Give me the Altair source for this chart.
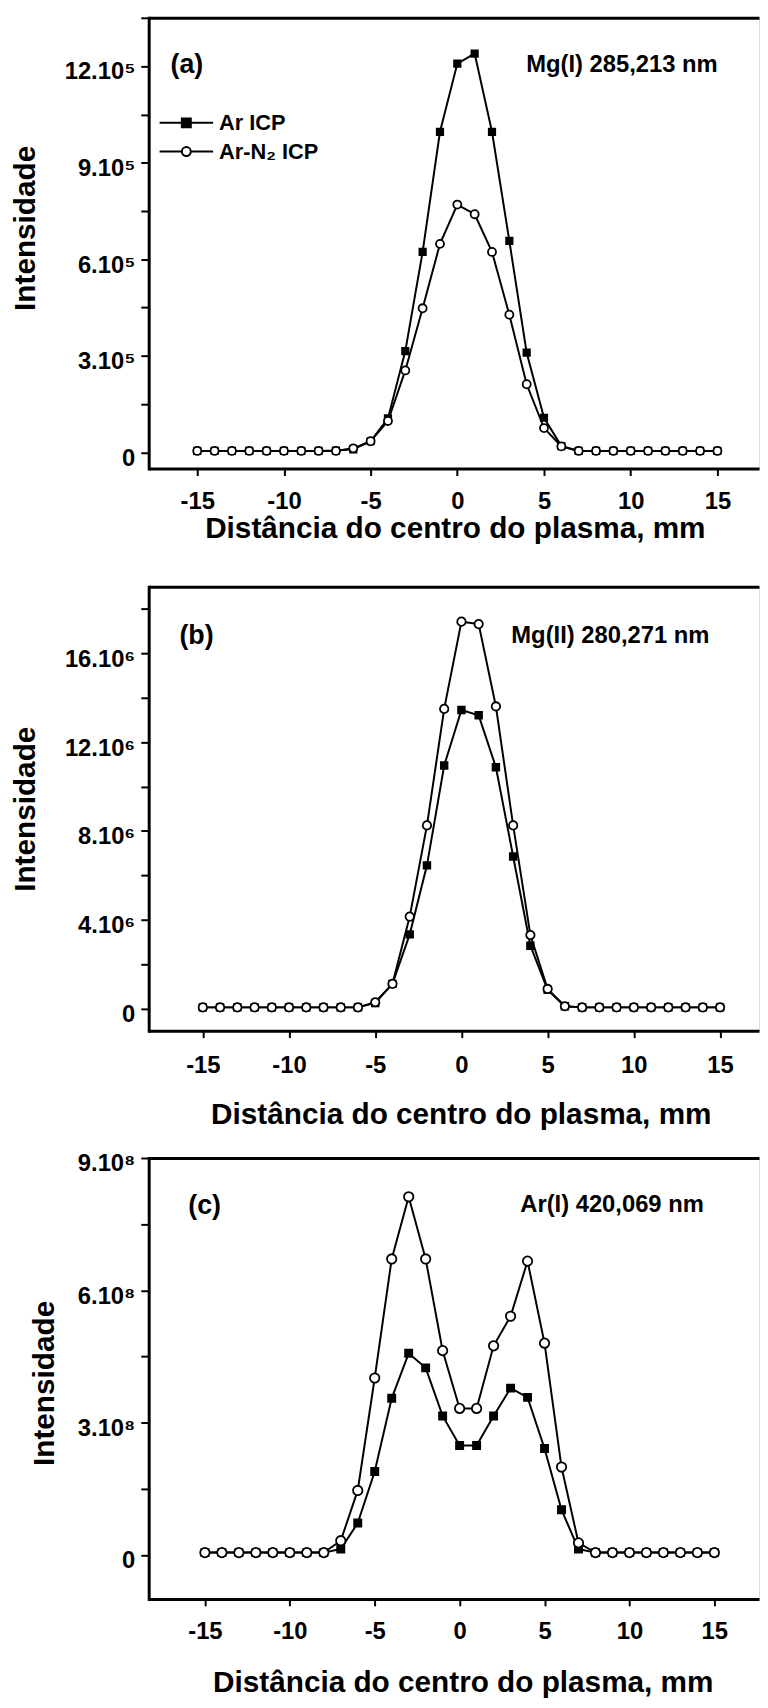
import altair as alt
import pandas as pd

FONT = "Liberation Sans"

# ---------------- data ----------------
distance_mm = [-15, -14, -13, -12, -11, -10, -9, -8, -7, -6, -5, -4, -3, -2, -1, 0,
               1, 2, 3, 4, 5, 6, 7, 8, 9, 10, 11, 12, 13, 14, 15]
series_names = ["Ar ICP", "Ar-N₂ ICP"]

# (a) Mg(I) 285,213 nm  -- intensities in units of 1e5
mg1_ar = [0.05, 0.05, 0.05, 0.05, 0.05, 0.05, 0.05, 0.05, 0.06, 0.10, 0.35, 1.06, 3.15, 6.23, 9.96, 12.08,
          12.39, 9.96, 6.57, 3.10, 1.08, 0.20, 0.05, 0.05, 0.05, 0.05, 0.05, 0.05, 0.05, 0.05, 0.05]
mg1_arn2 = [0.05, 0.05, 0.05, 0.05, 0.05, 0.05, 0.05, 0.05, 0.05, 0.13, 0.35, 0.98, 2.55, 4.48, 6.48, 7.70,
            7.40, 6.23, 4.28, 2.12, 0.76, 0.19, 0.05, 0.05, 0.05, 0.05, 0.05, 0.05, 0.05, 0.05, 0.05]

# (b) Mg(II) 280,271 nm -- intensities in units of 1e6
mg2_ar = [0.05, 0.05, 0.05, 0.05, 0.05, 0.05, 0.05, 0.05, 0.05, 0.05, 0.25, 1.11, 3.34, 6.45, 10.95, 13.45,
          13.21, 10.87, 6.85, 2.83, 0.84, 0.10, 0.05, 0.05, 0.05, 0.05, 0.05, 0.05, 0.05, 0.05, 0.05]
mg2_arn2 = [0.05, 0.05, 0.05, 0.05, 0.05, 0.05, 0.05, 0.05, 0.05, 0.05, 0.28, 1.11, 4.14, 8.25, 13.50, 17.43,
            17.32, 13.61, 8.25, 3.31, 0.88, 0.10, 0.05, 0.05, 0.05, 0.05, 0.05, 0.05, 0.05, 0.05, 0.05]

# (c) Ar(I) 420,069 nm -- intensities in units of 1e8
ar1_ar = [0.05, 0.05, 0.05, 0.05, 0.05, 0.05, 0.05, 0.05, 0.13, 0.72, 1.89, 3.55, 4.57, 4.24, 3.15, 2.48,
          2.48, 3.15, 3.78, 3.57, 2.41, 1.02, 0.13, 0.05, 0.05, 0.05, 0.05, 0.05, 0.05, 0.05, 0.05]
ar1_arn2 = [0.05, 0.05, 0.05, 0.05, 0.05, 0.05, 0.05, 0.05, 0.32, 1.46, 4.01, 6.71, 8.12, 6.71, 4.63, 3.32,
            3.32, 4.74, 5.41, 6.66, 4.80, 1.99, 0.27, 0.05, 0.05, 0.05, 0.05, 0.05, 0.05, 0.05, 0.05]

panel_tags = ["(a)", "(b)", "(c)"]
line_names = ["Mg(I) 285,213 nm", "Mg(II) 280,271 nm", "Ar(I) 420,069 nm"]

x_tick_values = [-15, -10, -5, 0, 5, 10, 15]
x_tick_labels = ["-15", "-10", "-5", "0", "5", "10", "15"]

a_tick_values = [0, 150000, 300000, 450000, 600000, 750000, 900000, 1050000, 1200000, 1350000]
a_tick_labels = ["0", "", "3.10⁵", "", "6.10⁵", "", "9.10⁵", "", "12.10⁵", ""]
b_tick_values = [0, 2000000, 4000000, 6000000, 8000000, 10000000, 12000000, 14000000, 16000000, 18000000]
b_tick_labels = ["0", "", "4.10⁶", "", "8.10⁶", "", "12.10⁶", "", "16.10⁶", ""]
c_tick_values = [0, 150000000, 300000000, 450000000, 600000000, 750000000, 900000000]
c_tick_labels = ["0", "", "3.10⁸", "", "6.10⁸", "", "9.10⁸"]

X_TITLE = "Distância do centro do plasma, mm"
Y_TITLE = "Intensidade"


def make_df(ar, arn2, unit):
    rows = []
    for name, vals in zip(series_names, [ar, arn2]):
        for d, v in zip(distance_mm, vals):
            rows.append({"distance": d, "intensity": v * unit, "series": name})
    return pd.DataFrame(rows)


def label_expr(values, labels):
    expr = "''"
    for v, l in reversed(list(zip(values, labels))):
        expr = f"datum.value == {v} ? '{l}' : ({expr})"
    return expr


# legend glyphs: a line through a marker (custom symbol paths, unit = sqrt(size)/2 px)
SQ_PATH = "M-5.4,0H5.4M-0.9,-0.9H0.9V0.9H-0.9Z"
CI_PATH = "M-5.4,0H-0.9M0.9,0H5.4M-0.9,0A0.9,0.9,0,1,1,0.9,0A0.9,0.9,0,1,1,-0.9,0Z"

legend_a = alt.Legend(
    title=None, orient="none", legendX=27, legendY=95, padding=0,
    symbolSize=100, symbolStrokeWidth=2, symbolOpacity=1,
    labelFont=FONT, labelFontSize=22, labelFontWeight="bold", labelColor="black",
    labelOffset=22, rowPadding=7,
)


def panel(df, tag, line_label, *, x_domain, y_domain, y_ticks, y_labels, height, marker_sizes,
          y_title_x, y_title_y, x_label_base, x_title_x, x_title_y, tag_pos, label_pos, legend):
    x_scale = alt.Scale(domain=x_domain, nice=False, zero=False)
    y_scale = alt.Scale(domain=y_domain, nice=False, zero=False)
    y_axis = alt.Axis(
        values=y_ticks, labelExpr=label_expr(y_ticks, y_labels), title=Y_TITLE,
        titleX=y_title_x, titleY=y_title_y, titleAngle=270, titleBaseline="alphabetic", titleAlign="center",
        titleFont=FONT, titleFontSize=30, titleFontWeight="bold", titleColor="black",
        labelFont=FONT, labelFontSize=24, labelFontWeight="bold", labelColor="black",
        labelPadding=6, labelOffset=6, labelOverlap=False, labelFlush=False,
        tickSize=8, tickWidth=2, tickColor="black",
        domainWidth=3, domainColor="black", domainCap="square", grid=False)
    x_axis = alt.Axis(
        values=x_tick_values, labelExpr=label_expr(x_tick_values, x_tick_labels), title=X_TITLE,
        titleX=x_title_x, titleY=x_title_y, titleBaseline="alphabetic", titleAlign="center",
        titleFont=FONT, titleFontSize=30, titleFontWeight="bold", titleColor="black",
        labelFont=FONT, labelFontSize=24, labelFontWeight="bold", labelColor="black",
        labelBaseline="alphabetic", labelPadding=x_label_base - 7, labelOverlap=False, labelFlush=False,
        tickSize=7, tickWidth=2, tickColor="black",
        domainWidth=3, domainColor="black", domainCap="butt", grid=False)
    x_top = alt.Axis(orient="top", labels=False, ticks=False, title=None,
                     domainWidth=3, domainColor="black", domainCap="butt", grid=False)

    shape_scale = alt.Scale(domain=series_names, range=["square", "circle"])
    fill_scale = alt.Scale(domain=series_names, range=["black", "white"])
    size_scale = alt.Scale(domain=series_names, range=marker_sizes)

    lines = alt.Chart(df).mark_line(color="black", strokeWidth=2).encode(
        x=alt.X("distance:Q", scale=x_scale, axis=x_axis),
        y=alt.Y("intensity:Q", scale=y_scale, axis=y_axis),
        detail="series:N",
    )
    points = alt.Chart(df).mark_point(filled=True, stroke="black", strokeWidth=1.8, opacity=1).encode(
        x=alt.X("distance:Q", scale=x_scale, axis=x_top),
        y=alt.Y("intensity:Q", scale=y_scale, axis=y_axis),
        shape=alt.Shape("series:N", scale=shape_scale, legend=None),
        fill=alt.Fill("series:N", scale=fill_scale, legend=None),
        size=alt.Size("series:N", scale=size_scale, legend=None),
    )
    tag_text = alt.Chart(pd.DataFrame({"t": [tag]})).mark_text(
        font=FONT, fontSize=27, fontWeight="bold", align="left", baseline="middle", color="black"
    ).encode(x=alt.value(tag_pos[0]), y=alt.value(tag_pos[1]), text="t:N")
    name_text = alt.Chart(pd.DataFrame({"t": [line_label]})).mark_text(
        font=FONT, fontSize=24, fontWeight="bold", align="left", baseline="middle", color="black"
    ).encode(x=alt.value(label_pos[0]), y=alt.value(label_pos[1]), text="t:N")

    layers = [lines, points, tag_text, name_text]
    if legend is not None:
        # legend-only layer (no rows drawn): symbols = line through marker
        proxy = alt.Chart(df).transform_filter("false").mark_point(
            filled=True, strokeWidth=2, opacity=1, size=100).encode(
            shape=alt.Shape("series:N", scale=alt.Scale(domain=series_names, range=[SQ_PATH, CI_PATH]),
                            legend=legend),
            fill=alt.Fill("series:N", scale=alt.Scale(domain=series_names, range=["black", "white"]),
                          legend=legend),
            stroke=alt.Stroke("series:N", scale=alt.Scale(domain=series_names, range=["black", "black"]),
                              legend=legend),
        )
        layers.append(proxy)

    return alt.layer(*layers).resolve_axis(x="independent").resolve_scale(
        shape="independent", fill="independent", stroke="independent", size="independent"
    ).properties(width=616, height=height)


panel_a = panel(make_df(mg1_ar, mg1_arn2, 1e5), panel_tags[0], line_names[0],
                x_domain=[-17.8, 17.4], y_domain=[-50000, 1350000],
                y_ticks=a_tick_values, y_labels=a_tick_labels, height=455, marker_sizes=[42, 66],
                y_title_x=-115, y_title_y=212, x_label_base=40, x_title_x=309, x_title_y=70,
                tag_pos=(22, 48), label_pos=(381, 48), legend=legend_a)
panel_b = panel(make_df(mg2_ar, mg2_arn2, 1e6), panel_tags[1], line_names[1],
                x_domain=[-18.14, 17.26], y_domain=[-1000000, 19000000],
                y_ticks=b_tick_values, y_labels=b_tick_labels, height=448, marker_sizes=[45, 72],
                y_title_x=-115, y_title_y=224, x_label_base=42, x_title_x=315, x_title_y=94,
                tag_pos=(31, 50), label_pos=(366, 50), legend=None)
panel_c = panel(make_df(ar1_ar, ar1_arn2, 1e8), panel_tags[2], line_names[2],
                x_domain=[-18.31, 17.63], y_domain=[-100000000, 900000000],
                y_ticks=c_tick_values, y_labels=c_tick_labels, height=445, marker_sizes=[52, 90],
                y_title_x=-96, y_title_y=227, x_label_base=39.5, x_title_x=317, x_title_y=93,
                tag_pos=(40, 49), label_pos=(375, 48), legend=None)

lower = alt.vconcat(panel_b, panel_c, spacing=128.5, bounds="flush").resolve_scale(
    shape="independent", fill="independent", stroke="independent", size="independent")

chart = alt.vconcat(panel_a, lower, spacing=119.3, bounds="flush").resolve_scale(
    shape="independent", fill="independent", stroke="independent", size="independent"
).properties(
    padding={"left": 2, "top": -5, "right": 0, "bottom": 0}
).configure_view(stroke=None).configure(background="white")

chart.save("out.html", embed_options={"renderer": "svg", "actions": False})
